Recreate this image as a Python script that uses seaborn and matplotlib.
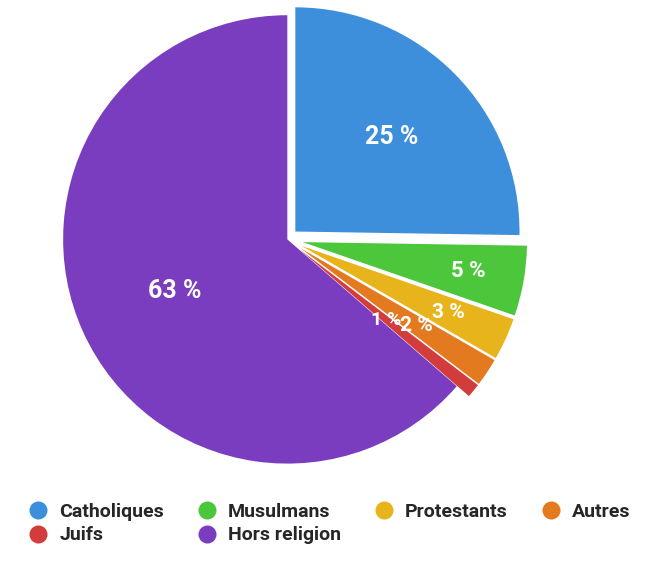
import matplotlib
matplotlib.use("Agg")
import matplotlib.pyplot as plt
import seaborn as sns
import numpy as np
from matplotlib.lines import Line2D

sns.set_theme(style="white")
plt.rcParams['font.family'] = ['Roboto', 'DejaVu Sans']

labels = ["Catholiques", "Musulmans", "Protestants", "Autres", "Juifs", "Hors religion"]
values = [25, 5, 3, 2, 1, 63]
colors = ["#3d8fdc", "#4cc63a", "#e8b41c", "#e47a1f", "#d23c3c", "#7a3dbf"]
pct_labels = ["25 %", "5 %", "3 %", "2 %", "1 %", "63 %"]

fig = plt.figure(figsize=(6.49, 5.62), dpi=100)
ax = fig.add_axes([0.08, 0.16, 0.76, 0.84])
explode = [0.05, 0.07, 0.07, 0.07, 0.07, 0.0]
wedges, _ = ax.pie(values, colors=colors, startangle=90, counterclock=False,
                   explode=explode, radius=1.0,
                   wedgeprops=dict(linewidth=0))
dist = [0.6, 0.75, 0.72, 0.62, 0.5, 0.55]
sizes = [18, 16, 15, 15, 14, 18]
for w, t, d, s in zip(wedges, pct_labels, dist, sizes):
    ang = np.deg2rad((w.theta1 + w.theta2) / 2)
    cx, cy = w.center
    ax.text(cx + d * np.cos(ang), cy + d * np.sin(ang), t, ha="center", va="center",
            color="white", fontsize=s, fontweight="bold")
ax.set_xlim(-1.05, 1.15)
ax.set_ylim(-1.03, 1.06)
ax.set_aspect("equal")
ax.axis("off")

order = [0, 4, 1, 5, 2, 3]
handles = [Line2D([0], [0], marker="o", color="w", markerfacecolor=colors[i], markersize=14)
           for i in order]
fig.legend(handles, [labels[i] for i in order], loc="lower center", ncol=4, frameon=False,
           bbox_to_anchor=(0.5, 0.0), handletextpad=0.1, columnspacing=1.2,
           labelspacing=0.3, prop=dict(weight="bold", size=14))
fig.savefig("out.png", dpi=100)
